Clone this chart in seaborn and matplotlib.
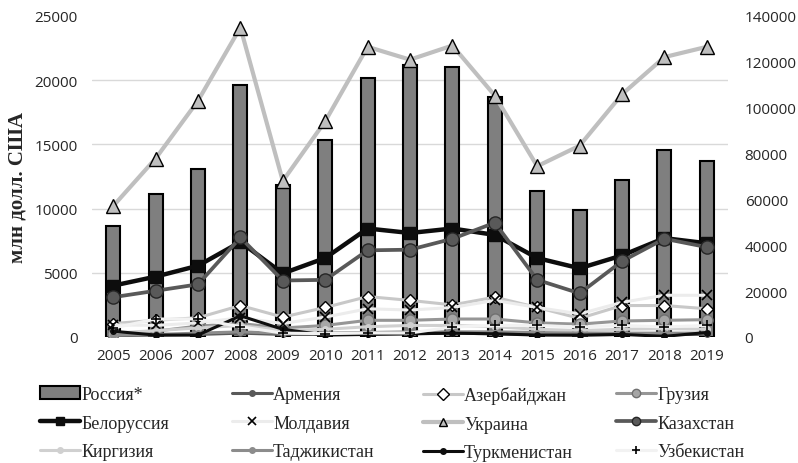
import numpy as np
import pandas as pd
import matplotlib
matplotlib.use("Agg")
import matplotlib.pyplot as plt
import seaborn as sns
from matplotlib.lines import Line2D
from matplotlib.patches import Patch
from matplotlib.ticker import FixedLocator, FormatStrFormatter
from matplotlib.font_manager import FontProperties

# ---------------- data ----------------
years = [str(y) for y in range(2005, 2020)]

russia = [48200, 62500, 73100, 109700, 66500, 86000, 113100, 118800, 117800,
          104800, 63500, 55200, 68300, 81700, 76800]            # right axis
armenia = [100, 150, 200, 300, 200, 200, 250, 250, 300, 250, 200, 150, 200, 200, 200]
azerbaijan = [1050, 1300, 1500, 2450, 1550, 2300, 3150, 2850, 2500, 3100,
              2300, 1450, 2450, 2450, 2200]
georgia = [250, 450, 850, 1050, 700, 900, 1300, 1300, 1400, 1400, 1100, 1000,
           1250, 1300, 1350]
belarus = [4000, 4700, 5550, 7400, 4950, 6150, 8450, 8100, 8450, 7950, 6150,
           5350, 6350, 7700, 7300]
moldova = [950, 900, 1100, 1500, 1050, 1550, 2200, 2100, 2300, 2850, 2300,
           1800, 2700, 3250, 3250]
ukraine = [10200, 13900, 18400, 24100, 12150, 16800, 22600, 21600, 22700,
           18800, 13300, 14900, 18900, 21800, 22600]
kazakhstan = [3100, 3600, 4100, 7750, 4400, 4450, 6750, 6800, 7650, 8900,
              4450, 3400, 5900, 7650, 7000]
kyrgyzstan = [300, 500, 700, 900, 500, 600, 800, 900, 900, 800, 600, 500, 600, 650, 600]
tajikistan = [150, 200, 300, 400, 300, 300, 350, 400, 400, 400, 350, 300, 300, 300, 300]
turkmenistan = [450, 150, 150, 1650, 600, 150, 200, 250, 300, 250, 150, 150,
                200, 50, 350]
uzbekistan = [700, 1400, 1400, 800, 300, 260, 310, 310, 780, 900, 900, 780,
              900, 780, 900]

left_ticks = [0, 5000, 10000, 15000, 20000, 25000]
right_ticks = [0, 20000, 40000, 60000, 80000, 100000, 120000, 140000]

# ---------------- style ----------------
sns.set_theme(style="white")
plt.rcParams["font.family"] = ["Open Sans", "DejaVu Sans"]

series = [
    # name, values, line color, lw, marker, ms, mfc, mec, mew
    ("Армения", armenia, "#595959", 2.2, "o", 4, "#595959", "#595959", 1.0),
    ("Азербайджан", azerbaijan, "#c8c8c8", 2.2, "D", 6.5, "white", "black", 1.0),
    ("Грузия", georgia, "#969696", 2.2, "o", 8, "#a6a6a6", "#707070", 1.0),
    ("Белоруссия", belarus, "#0d0d0d", 3.2, "s", 8.5, "#0d0d0d", "#0d0d0d", 1.0),
    ("Молдавия", moldova, "#ececec", 2.2, "x", 6.5, "black", "black", 1.2),
    ("Украина", ukraine, "#bfbfbf", 3.0, "^", 10, "#bfbfbf", "black", 1.0),
    ("Казахстан", kazakhstan, "#595959", 2.7, "o", 9.5, "#595959", "#262626", 1.0),
    ("Киргизия", kyrgyzstan, "#d0d0d0", 2.2, "o", 4, "#d0d0d0", "#d0d0d0", 1.0),
    ("Таджикистан", tajikistan, "#8c8c8c", 2.2, "o", 4, "#8c8c8c", "#8c8c8c", 1.0),
    ("Туркменистан", turkmenistan, "#0d0d0d", 2.2, "o", 4, "#0d0d0d", "#0d0d0d", 1.0),
    ("Узбекистан", uzbekistan, "#f2f2f2", 2.2, "+", 7.5, "black", "black", 1.2),
]

W, H = 798, 464
fig = plt.figure(figsize=(W / 100, H / 100), dpi=100)
L, R, T, B = 92, 728, 17, 338
ax_bar = fig.add_axes([L / W, 1 - B / H, (R - L) / W, (B - T) / H])
ax = ax_bar.twinx()

# bars (right axis)
sns.barplot(x=years, y=russia, ax=ax_bar, color="#7f7f7f", saturation=1,
            edgecolor="black", linewidth=1.5, width=0.33, errorbar=None)
ax_bar.set_ylim(0, 140000)
ax_bar.yaxis.set_major_locator(FixedLocator(right_ticks))
ax_bar.yaxis.set_major_formatter(FormatStrFormatter("%d"))
ratio = 140000 / 25000
ax_bar.yaxis.set_minor_locator(FixedLocator([v * ratio for v in left_ticks]))
ax_bar.grid(False)
ax_bar.grid(True, which="minor", axis="y", color="#d9d9d9", linewidth=1.0)
ax_bar.set_axisbelow(True)

# lines (left axis)
for name, vals, col, lw, mk, ms, mfc, mec, mew in series:
    sns.pointplot(x=years, y=vals, ax=ax, color=col, markers=mk, linewidth=lw,
                  markersize=ms, markerfacecolor=mfc, markeredgecolor=mec,
                  markeredgewidth=mew, errorbar=None)
ax.set_ylim(0, 25000)
ax.yaxis.set_major_locator(FixedLocator(left_ticks))
ax.yaxis.set_major_formatter(FormatStrFormatter("%d"))
ax.grid(False)

# line-axis ticks on the left, bar-axis ticks on the right
ax.yaxis.tick_left()
ax_bar.yaxis.tick_right()
ax.set_ylabel("")
ax_bar.set_ylabel("")
ax.set_xlabel("")
ax_bar.set_xlabel("")

for a in (ax, ax_bar):
    for s in a.spines.values():
        s.set_visible(False)
    a.tick_params(axis="both", which="both", length=0, labelsize=11,
                  colors="#262626")
ax.tick_params(axis="y", pad=10.5)
ax_bar.tick_params(axis="y", pad=12)
ax_bar.tick_params(axis="x", pad=8)
ax.tick_params(axis="x", pad=8)
ax_bar.set_xlim(-0.5, len(years) - 0.5)

fig.text(18 / W, 1 - 188 / H, "млн долл. США", rotation=90, ha="center",
         va="center", fontsize=15, fontweight="bold",
         family=["Liberation Serif", "DejaVu Serif"], color="#262626")

# ---------------- legend ----------------
handles = {"Россия*": Patch(facecolor="#7f7f7f", edgecolor="black", linewidth=1.5)}
for name, vals, col, lw, mk, ms, mfc, mec, mew in series:
    handles[name] = Line2D([], [], color=col, linewidth=lw, marker=mk,
                           markersize=min(ms, 6), markerfacecolor=mfc,
                           markeredgecolor=mec, markeredgewidth=mew)

columns = [
    ["Россия*", "Белоруссия", "Киргизия"],
    ["Армения", "Молдавия", "Таджикистан"],
    ["Азербайджан", "Украина", "Туркменистан"],
    ["Грузия", "Казахстан", "Узбекистан"],
]
col_x = [40, 232, 423, 616]
lp = FontProperties(family=["Liberation Serif", "DejaVu Serif"], size=13)
for cx, names in zip(col_x, columns):
    fig.legend(handles=[handles[n] for n in names], labels=names,
               loc="upper left", bbox_to_anchor=(cx / W, 1 - 387 / H),
               frameon=False, borderpad=0, borderaxespad=0, ncol=1,
               handlelength=2.2, handletextpad=0.08, labelspacing=0.64,
               prop=lp, labelcolor="#262626")

fig.savefig("out.png", dpi=100)
